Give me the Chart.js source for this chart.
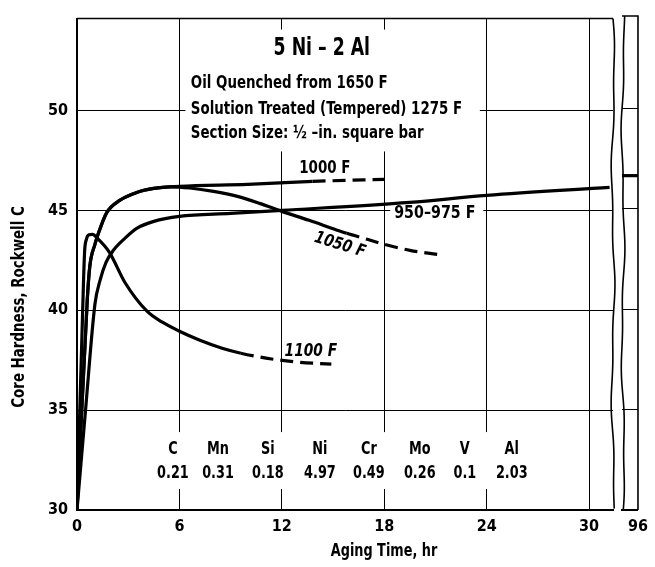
<!DOCTYPE html>
<html><head><meta charset="utf-8">
<script src="https://cdn.jsdelivr.net/npm/chart.js@4.4.1/dist/chart.umd.min.js"></script>
<style>
html,body{margin:0;padding:0;background:#fff;}
#wrap{position:relative;width:655px;height:567px;overflow:hidden;background:#fff;}
#main{position:absolute;left:0;top:0;}
#panel{position:absolute;left:614px;top:0;}
</style></head><body>
<div id="wrap"><canvas id="main" width="655" height="567"></canvas><canvas id="panel" width="41" height="567"></canvas></div>
<script>
// ---------- data ----------
const X_TICKS = [0, 6, 12, 18, 24, 30];
const Y_TICKS = [30, 35, 40, 45, 50];
const PANEL_TICKS = [96];

const HR_950 = [0, 0.5, 1.05, 1.35, 1.7, 2.13, 2.8, 3.5, 4.5, 6, 9, 12, 19.5, 24, 31.2];
const HRC_950 = [30, 35.0, 40.3, 41.5, 42.4, 43.0, 43.6, 44.1, 44.45, 44.7, 44.85, 45.0, 45.4, 45.75, 46.15];
const DASH_950 = 99;

const HR_1000 = [0, 0.6, 0.75, 1.05, 1.4, 1.75, 2.5, 3.5, 4.5, 6, 10, 13.8, 18];
const HRC_1000 = [30, 40.5, 42.2, 43.3, 44.2, 44.9, 45.5, 45.9, 46.1, 46.2, 46.3, 46.45, 46.55];
const DASH_1000 = 13.8;

const HR_1050 = [0, 0.6, 0.75, 1.05, 1.4, 1.75, 2.5, 3.5, 4.5, 5.5, 6.6, 8, 9.4, 10.7, 12, 13.6, 15.2, 15.8, 17.0, 18, 19.5, 21.1];
const HRC_1050 = [30, 40.5, 42.2, 43.3, 44.2, 44.9, 45.5, 45.9, 46.1, 46.18, 46.12, 45.95, 45.7, 45.35, 44.95, 44.5, 44.02, 43.85, 43.55, 43.3, 43.0, 42.8];
const DASH_1050 = 15.8;

const HR_1100 = [0, 0.38, 0.45, 0.55, 0.7, 0.9, 1.2, 1.9, 2.8, 4.1, 5.0, 6.0, 7.2, 8.5, 9.6, 11.4, 13, 14.9];
const HRC_1100 = [30, 41.4, 43.0, 43.55, 43.78, 43.8, 43.6, 42.9, 41.4, 39.95, 39.4, 38.95, 38.5, 38.1, 37.85, 37.56, 37.4, 37.3];
const DASH_1100 = 9.6;

const HR_PANEL = [95, 96];
const HRC_PANEL = [46.65, 46.65];

const ELEMENTS = ['C', 'Mn', 'Si', 'Ni', 'Cr', 'Mo', 'V', 'Al'];
const WT_PCT = ['0.21', '0.31', '0.18', '4.97', '0.49', '0.26', '0.1', '2.03'];

const TITLE = '5 Ni \u2013 2 Al';
const NOTES = ['Oil Quenched from 1650 F', 'Solution Treated (Tempered) 1275 F', 'Section Size: \u00BD \u2013in. square bar'];
const X_TITLE = 'Aging Time, hr';
const Y_TITLE = 'Core Hardness, Rockwell C';

// ---------- styling ----------
const FF = "'DejaVu Sans Condensed', 'DejaVu Sans', sans-serif";
const TICK_FONT = {family: FF, size: 16, weight: 'bold'};
const DASH = [13, 7];
const LW = 3.2;

function pts(xs, ys) { return xs.map((v, i) => ({x: v, y: ys[i]})); }
function ds(label, xs, ys, dashFrom) {
  return {
    label, data: pts(xs, ys), borderColor: '#000', backgroundColor: '#000',
    borderWidth: LW, pointRadius: 0, fill: false, cubicInterpolationMode: 'monotone',
    borderCapStyle: 'butt', borderJoinStyle: 'round',
    segment: { borderDash: c => (c.p0.parsed.x >= dashFrom - 1e-9 ? DASH : undefined) }
  };
}

function wavy(ctx, x0, top, bottom, amp, ph) {
  ctx.beginPath();
  for (let yy = top; yy <= bottom; yy += 2) {
    const t = (yy - top);
    const dx = amp * Math.sin(t / 34 + ph) + 0.5 * amp * Math.sin(t / 13 + 2 * ph);
    if (yy === top) ctx.moveTo(x0 + dx, yy); else ctx.lineTo(x0 + dx, yy);
  }
  ctx.stroke();
}

function txt(ctx, s, x, y, font, align, rot, sx) {
  ctx.save();
  ctx.translate(x, y);
  if (rot) ctx.rotate(rot);
  ctx.scale(sx || 1, 1);
  ctx.font = font;
  ctx.textAlign = align || 'center';
  ctx.textBaseline = 'middle';
  ctx.fillStyle = '#000';
  ctx.fillText(s, 0, 0);
  ctx.restore();
}

const F17 = 'bold 17px ' + FF;

const mainDecor = {
  id: 'mainDecor',
  beforeDatasetsDraw(chart) {
    const {ctx, chartArea: a, scales: {x, y}} = chart;
    ctx.save();
    // white boxes interrupting gridlines behind text blocks
    ctx.fillStyle = '#fff';
    const box = (x1, x2, y1, y2) => {
      const L = x.getPixelForValue(x1), R = x.getPixelForValue(x2);
      const T = y.getPixelForValue(y1), B = y.getPixelForValue(y2);
      ctx.fillRect(L, T, R - L, B - T);
    };
    box(6.35, 23.6, 54.05, 47.95);
    box(4.9, 26.4, 33.9, 31.05);
    box(18.35, 23.8, 45.45, 44.3);
    // title block
    txt(ctx, TITLE, x.getPixelForValue(14.34), y.getPixelForValue(53.07), 'bold 24px ' + FF, 'center', 0, 0.8);
    const nx = x.getPixelForValue(6.67);
    const ny = [51.33, 50.03, 48.86];
    NOTES.forEach((s, i) => txt(ctx, s, nx, y.getPixelForValue(ny[i]), F17, 'left', 0, 0.875));
    // composition table
    const cx = [5.62, 8.26, 11.18, 14.23, 17.10, 20.08, 22.72, 25.47];
    ELEMENTS.forEach((s, i) => txt(ctx, s, x.getPixelForValue(cx[i]), y.getPixelForValue(33.04), F17, 'center', 0, 0.84));
    WT_PCT.forEach((s, i) => txt(ctx, s, x.getPixelForValue(cx[i]), y.getPixelForValue(31.8), F17, 'center', 0, 0.84));
    // curve labels
    txt(ctx, '1000 F', x.getPixelForValue(14.52), y.getPixelForValue(47.09), F17, 'center', 0, 0.88);
    txt(ctx, '950\u2013975 F', x.getPixelForValue(20.96), y.getPixelForValue(44.85), F17, 'center', 0, 0.93);
    txt(ctx, '1050 F', x.getPixelForValue(15.4), y.getPixelForValue(43.26), 'italic ' + F17, 'center', 0.3, 0.9);
    txt(ctx, '1100 F', x.getPixelForValue(13.7), y.getPixelForValue(37.93), 'italic ' + F17, 'center', 0, 0.9);
    // top frame
    ctx.strokeStyle = '#000'; ctx.lineWidth = 1.5;
    ctx.beginPath(); ctx.moveTo(a.left, a.top); ctx.lineTo(a.right, a.top); ctx.stroke();
    ctx.restore();
  },
  afterDraw(chart) {
    const {ctx, chartArea: a} = chart;
    ctx.save();
    ctx.strokeStyle = '#000'; ctx.lineWidth = 1.6;
    wavy(ctx, a.right, a.top, a.bottom, 1.3, 0);
    txt(ctx, X_TITLE, 384, 552, F17, 'center', 0, 0.84);
    txt(ctx, Y_TITLE, 20, 307, F17, 'center', -Math.PI / 2, 0.875);
    ctx.restore();
  }
};

const panelDecor = {
  id: 'panelDecor',
  afterDraw(chart) {
    const {ctx, chartArea: a} = chart;
    ctx.save();
    ctx.strokeStyle = '#000'; ctx.lineWidth = 1.6;
    ctx.beginPath(); ctx.moveTo(a.left, a.top); ctx.lineTo(a.right, a.top); ctx.lineTo(a.right, a.bottom); ctx.stroke();
    wavy(ctx, a.left + 1, a.top, a.bottom, 1.3, 1.2);
    ctx.restore();
  }
};

const gridOpt = {color: '#000', lineWidth: 1, drawTicks: false};

new Chart(document.getElementById('main'), {
  type: 'line',
  data: { datasets: [
    ds('950-975 F', HR_950, HRC_950, DASH_950),
    ds('1000 F', HR_1000, HRC_1000, DASH_1000),
    ds('1050 F', HR_1050, HRC_1050, DASH_1050),
    ds('1100 F', HR_1100, HRC_1100, DASH_1100)
  ]},
  options: {
    responsive: false, animation: false, devicePixelRatio: 1,
    layout: {padding: {top: 16, right: 42, left: 0, bottom: 0}},
    plugins: {legend: {display: false}, tooltip: {enabled: false}},
    scales: {
      x: {
        type: 'linear', min: 0, max: 31.4,
        afterBuildTicks: s => { s.ticks = X_TICKS.map(v => ({value: v})); },
        afterFit: s => { s.height = 57; },
        grid: gridOpt,
        border: {display: true, color: '#000', width: 2},
        ticks: {color: '#000', font: TICK_FONT, padding: 7, maxRotation: 0, autoSkip: false}
      },
      y: {
        type: 'linear', min: 30, max: 54.6,
        afterBuildTicks: s => { s.ticks = Y_TICKS.map(v => ({value: v})); },
        afterFit: s => { s.width = 77; },
        grid: gridOpt,
        border: {display: true, color: '#000', width: 1.5},
        ticks: {color: '#000', font: TICK_FONT, padding: 9, autoSkip: false}
      }
    }
  },
  plugins: [mainDecor]
});

new Chart(document.getElementById('panel'), {
  type: 'line',
  data: { datasets: [ds('950-975 F (96 hr)', HR_PANEL, HRC_PANEL, 999)] },
  options: {
    responsive: false, animation: false, devicePixelRatio: 1,
    layout: {padding: {top: 16, right: 10, left: 8, bottom: 0}},
    plugins: {legend: {display: false}, tooltip: {enabled: false}},
    scales: {
      x: {
        type: 'linear', min: 95, max: 96,
        afterBuildTicks: s => { s.ticks = PANEL_TICKS.map(v => ({value: v})); },
        afterFit: s => { s.height = 57; },
        grid: {display: false, drawTicks: false},
        border: {display: true, color: '#000', width: 2},
        ticks: {color: '#000', font: TICK_FONT, padding: 7, maxRotation: 0, autoSkip: false}
      },
      y: {
        type: 'linear', min: 30, max: 54.6,
        afterBuildTicks: s => { s.ticks = Y_TICKS.map(v => ({value: v})); },
        afterFit: s => { s.width = 0; },
        grid: gridOpt,
        border: {display: false},
        ticks: {display: false}
      }
    }
  },
  plugins: [panelDecor]
});
</script>
</body></html>
